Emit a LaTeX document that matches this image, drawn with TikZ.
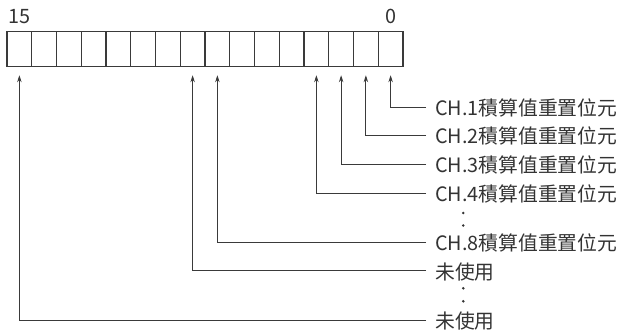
\documentclass[tikz,border=0pt]{standalone}
\usepackage{fontspec}
\setmainfont{Noto Sans CJK TC}
\usepackage{tikz}
\usetikzlibrary{arrows.meta,positioning}

\definecolor{linegray}{HTML}{3A3A3A}
\definecolor{textgray}{HTML}{333333}

\begin{document}
\begin{tikzpicture}[
    x=1pt, y=-1pt,
    font=\fontsize{19.8}{23}\selectfont,
    bitcell/.style={rectangle, draw=linegray, line width=1.1pt, minimum width=24.75pt, minimum height=35pt, inner sep=0pt},
    bitnum/.style={inner sep=0pt, text=textgray},
    desc/.style={anchor=west, inner xsep=9pt, inner ysep=0pt, text height=17.4pt, text depth=0.2pt, text=textgray},
    dot/.style={circle, fill=textgray, inner sep=0pt, minimum size=2.8pt},
    arrow/.style={-{Stealth[length=7pt,width=4.5pt]}, linegray, line width=0.9pt, shorten >=8pt},
]
    \useasboundingbox (0,0) rectangle (619,331);

    % Register cells (bit 15 on the left, bit 0 on the right)
    \foreach \b in {0,...,15}
        \node[bitcell] (b\b) at ({19.375+(15-\b)*24.75}, 49.2) {};

    % Bit numbers
    \node[bitnum, above=7.5pt of b15] (n15) {15};
    \node[bitnum, above=7.5pt of b0] (n0) {0};

    % Descriptions (right column)
    \node[desc] (ch1) at (426,107.3) {CH.1積算值重置位元};
    \node[desc] (ch2) at (426,135.3) {CH.2積算值重置位元};
    \node[desc] (ch3) at (426,164) {CH.3積算值重置位元};
    \node[desc] (ch4) at (426,193) {CH.4積算值重置位元};
    \node[desc] (ch8) at (426,242.3) {CH.8積算值重置位元};
    \node[desc] (un8) at (426,270.7) {未使用};
    \node[desc] (un15) at (426,320) {未使用};

    % Dots
    \node[dot] (d1) at (463.3,213) {};
    \node[dot] (d2) at (463.3,225.5) {};
    \node[dot] (d3) at (463.3,288.3) {};
    \node[dot] (d4) at (463.3,301.3) {};

    % Arrows from descriptions to bits
    \draw[arrow] (ch1.west) -| (b0.south);
    \draw[arrow] (ch2.west) -| (b1.south);
    \draw[arrow] (ch3.west) -| (b2.south);
    \draw[arrow] (ch4.west) -| (b3.south);
    \draw[arrow] (ch8.west) -| (b7.south);
    \draw[arrow] (un8.west) -| (b8.south);
    \draw[arrow] (un15.west) -| (b15.south);
\end{tikzpicture}
\end{document}
